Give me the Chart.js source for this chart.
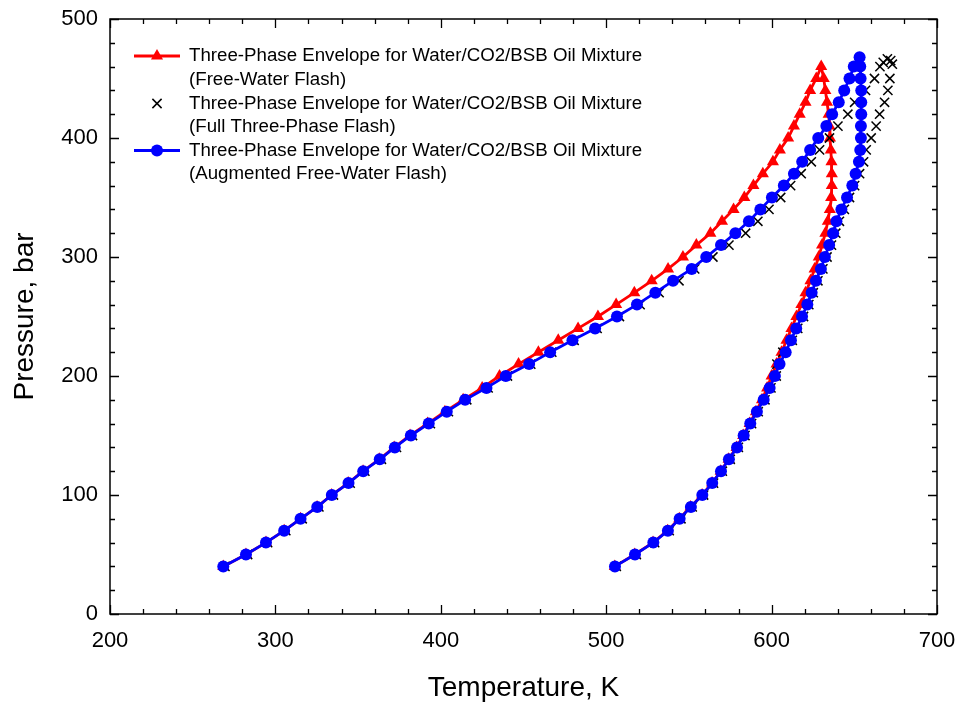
<!DOCTYPE html>
<html>
<head>
<meta charset="utf-8">
<script src="https://cdn.jsdelivr.net/npm/chart.js@4/dist/chart.umd.min.js"></script>
<style>
  html, body { margin: 0; padding: 0; background: #fff; }
  #wrap { width: 960px; height: 706px; }
</style>
</head>
<body>
<div id="wrap"><canvas id="chart" width="960" height="706"></canvas></div>
<script>
// Three-phase envelopes, Water/CO2/BSB oil — temperature (K) vs pressure (bar)

const X_TICKS = [200, 300, 400, 500, 600, 700];
const Y_TICKS = [0, 100, 200, 300, 400, 500];

const LEGEND_LINES = [
  ["Three-Phase Envelope for Water/CO2/BSB Oil Mixture", "(Free-Water Flash)"],
  ["Three-Phase Envelope for Water/CO2/BSB Oil Mixture", "(Full Three-Phase Flash)"],
  ["Three-Phase Envelope for Water/CO2/BSB Oil Mixture", "(Augmented Free-Water Flash)"],
];

// Free-Water Flash (red, triangles)
const fwTemp = [
  268.5, 282.2, 294.3, 305.3, 315.2, 325.2, 334.0, 344.0, 353.0, 362.8, 371.8, 381.4, 392.0, 402.5,
  413.5, 425.0, 435.5, 447.0, 459.0, 471.0, 483.0, 495.0, 506.0, 517.0, 527.5, 537.4, 546.4, 554.5,
  563.0, 570.0, 577.0, 583.5, 589.0, 594.7, 600.8, 605.0, 610.0, 613.5, 617.0, 620.5, 623.3, 627.0, 630.0,
  631.5, 632.5, 633.5, 634.5, 635.0, 635.3, 635.8, 636.2, 636.4, 636.4, 636.0, 635.2, 634.0, 632.5,
  630.5, 628.5, 626.0, 623.5, 620.5, 618.0, 615.0, 612.0, 609.0, 606.0, 603.0, 600.0, 597.3, 594.2,
  590.5, 586.7, 582.8, 578.8, 574.0, 569.2, 564.0, 558.0, 551.0, 544.2, 537.1, 528.3, 517.2, 505.2
];
const fwPres = [
  40, 50, 60, 70, 80, 90, 100, 110, 120, 130, 140, 150, 160, 170,
  180, 190, 200, 210, 220, 230, 240, 250, 260, 270, 280, 290, 300, 310,
  320, 330, 340, 350, 360, 370, 380, 390, 400, 410, 420, 430, 440, 450, 460,
  450, 440, 430, 420, 410, 400, 390, 380, 370, 360, 350, 340, 330, 320,
  310, 300, 290, 280, 270, 260, 250, 240, 230, 220, 210, 200, 190, 180,
  170, 160, 150, 140, 130, 120, 110, 100, 90, 80, 70, 60, 50, 40
];

// Full Three-Phase Flash (black crosses, no line)
const ftpTemp = [
  269.5, 283.2, 295.3, 306.3, 316.2, 326.3, 335.1, 345.2, 354.1, 364.1, 373.2, 382.9, 393.7, 404.6,
  415.7, 428.6, 440.3, 454.4, 467.1, 480.6, 494.5, 508.0, 520.5, 532.0, 544.0, 553.5, 564.5, 574.2,
  584.3, 591.7, 598.4, 605.5, 611.5, 617.9, 624.0, 629.0, 635.0, 640.1, 646.1, 650.2, 656.8, 662.2, 665.5,
  667.5, 670.0, 672.0, 673.0,
  671.5, 670.3, 668.3, 665.3, 663.2, 660.2, 657.2, 655.6, 653.2, 650.2, 647.1, 644.0, 641.0, 638.8,
  636.2, 633.5, 631.0, 628.0, 625.2, 622.5, 619.3, 615.8, 612.5, 606.8, 603.2, 602.8, 599.6, 596.0,
  591.9, 587.9, 583.9, 579.9, 575.0, 570.2, 564.9, 558.9, 552.0, 545.2, 538.1, 529.3, 518.2, 506.1
];
const ftpPres = [
  40, 50, 60, 70, 80, 90, 100, 110, 120, 130, 140, 150, 160, 170,
  180, 190, 200, 210, 220, 230, 240, 250, 260, 270, 280, 290, 300, 310,
  320, 330, 340, 350, 360, 370, 380, 390, 400, 410, 420, 430, 440, 450, 460,
  463.5, 466.5, 465, 462,
  450, 440, 430, 420, 410, 400, 390, 380, 370, 360, 350, 340, 330, 320,
  310, 300, 290, 280, 270, 260, 250, 240, 230, 220, 210, 200, 190, 180,
  170, 160, 150, 140, 130, 120, 110, 100, 90, 80, 70, 60, 50, 40
];

// Augmented Free-Water Flash (blue, circles)
const afwTemp = [
  268.5, 282.2, 294.3, 305.3, 315.2, 325.3, 334.1, 344.2, 353.1, 363.1, 372.2, 381.9, 392.7, 403.6,
  414.7, 427.6, 439.3, 453.4, 466.1, 479.6, 493.3, 506.5, 518.6, 529.7, 540.4, 551.7, 560.5, 569.4,
  578.1, 586.3, 593.2, 600.2, 607.4, 613.5, 618.5, 623.3, 628.2, 633.1, 636.6, 640.6, 643.9, 647.1, 649.7,
  653.2,
  653.6, 653.8, 654.2, 654.2, 654.2, 654.0, 654.0, 653.6, 652.8, 650.8, 648.8, 645.6, 642.2, 639.2,
  637.2, 634.8, 632.2, 629.8, 626.8, 624.2, 621.6, 618.4, 614.9, 611.7, 608.5, 604.8, 602.0, 598.8,
  595.2, 591.1, 587.1, 583.1, 579.1, 574.2, 569.4, 564.1, 558.1, 551.2, 544.4, 537.3, 528.5, 517.4, 505.3
];
const afwPres = [
  40, 50, 60, 70, 80, 90, 100, 110, 120, 130, 140, 150, 160, 170,
  180, 190, 200, 210, 220, 230, 240, 250, 260, 270, 280, 290, 300, 310,
  320, 330, 340, 350, 360, 370, 380, 390, 400, 410, 420, 430, 440, 450, 460,
  467.8,
  460, 450, 440, 430, 420, 410, 400, 390, 380, 370, 360, 350, 340, 330,
  320, 310, 300, 290, 280, 270, 260, 250, 240, 230, 220, 210, 200, 190,
  180, 170, 160, 150, 140, 130, 120, 110, 100, 90, 80, 70, 60, 50, 40
];

const FONT = "'Liberation Sans', Arial, sans-serif";

function pts(xs, ys) {
  return xs.map((x, i) => ({ x: x, y: ys[i] }));
}

// ─── frame, inside ticks (major + minor) and the box-less legend ────────────
const framePlugin = {
  id: "frame",
  afterDatasetsDraw(chart) {
    const { ctx, chartArea: a, scales } = chart;
    ctx.save();
    ctx.strokeStyle = "#000";
    ctx.lineWidth = 1.5;
    ctx.strokeRect(a.left, a.top, a.right - a.left, a.bottom - a.top);
    ctx.lineWidth = 1.3;
    ctx.beginPath();
    for (let v = 200; v <= 700; v += 20) {
      const px = Math.round(scales.x.getPixelForValue(v)) + 0.5;
      const len = v % 100 === 0 ? 9 : 5;
      ctx.moveTo(px, a.bottom); ctx.lineTo(px, a.bottom - len);
      ctx.moveTo(px, a.top);    ctx.lineTo(px, a.top + len);
    }
    for (let v = 0; v <= 500; v += 20) {
      const py = Math.round(scales.y.getPixelForValue(v)) + 0.5;
      const len = v % 100 === 0 ? 9 : 5;
      ctx.moveTo(a.left, py);  ctx.lineTo(a.left + len, py);
      ctx.moveTo(a.right, py); ctx.lineTo(a.right - len, py);
    }
    ctx.stroke();
    ctx.restore();
  },
  afterDraw(chart) {
    const ctx = chart.ctx;
    const rows = [56, 103.5, 150.5];
    const sets = chart.data.datasets;
    ctx.save();
    ctx.font = "18.7px " + FONT;
    ctx.textBaseline = "middle";
    LEGEND_LINES.forEach((lines, i) => {
      const y = rows[i];
      const ds = sets[i];
      if (ds.showLine) {
        ctx.strokeStyle = ds.borderColor;
        ctx.lineWidth = ds.borderWidth;
        ctx.beginPath(); ctx.moveTo(134, y); ctx.lineTo(180, y); ctx.stroke();
      }
      ctx.fillStyle = ds.pointBackgroundColor;
      ctx.strokeStyle = ds.pointBorderColor;
      ctx.lineWidth = ds.pointBorderWidth || 1;
      drawMarker(ctx, ds.pointStyle, ds.pointRadius, 157, y);
      ctx.fillStyle = "#000";
      ctx.fillText(lines[0], 189, y);
      ctx.fillText(lines[1], 189, y + 23.5);
    });
    ctx.restore();
  }
};

function drawMarker(ctx, style, r, x, y) {
  if (style === "triangle") {
    ctx.beginPath();
    ctx.moveTo(x, y - r);
    ctx.lineTo(x + r * 0.866, y + r * 0.5);
    ctx.lineTo(x - r * 0.866, y + r * 0.5);
    ctx.closePath();
    ctx.fill();
  } else if (style === "circle") {
    ctx.beginPath();
    ctx.arc(x, y, r, 0, Math.PI * 2);
    ctx.fill();
  } else {
    const d = r * 0.7071;
    ctx.beginPath();
    ctx.moveTo(x - d, y - d); ctx.lineTo(x + d, y + d);
    ctx.moveTo(x + d, y - d); ctx.lineTo(x - d, y + d);
    ctx.stroke();
  }
}

// keep the plot box exactly where the layout padding puts it
function noEdgePad(s) {
  s.paddingLeft = 0; s.paddingRight = 0; s.paddingTop = 0; s.paddingBottom = 0;
}

new Chart(document.getElementById("chart"), {
  type: "scatter",
  data: {
    datasets: [
      {
        label: "Free-Water Flash",
        data: pts(fwTemp, fwPres),
        showLine: true,
        borderColor: "#ff0000",
        borderWidth: 2.8,
        pointStyle: "triangle",
        pointRadius: 7,
        pointBackgroundColor: "#ff0000",
        pointBorderColor: "#ff0000",
        pointBorderWidth: 0,
        order: 2
      },
      {
        label: "Full Three-Phase Flash",
        data: pts(ftpTemp, ftpPres),
        showLine: false,
        borderColor: "#000",
        pointStyle: "crossRot",
        pointRadius: 6.5,
        pointBackgroundColor: "#000",
        pointBorderColor: "#000",
        pointBorderWidth: 1.5,
        order: 1
      },
      {
        label: "Augmented Free-Water Flash",
        data: pts(afwTemp, afwPres),
        showLine: true,
        borderColor: "#0000ff",
        borderWidth: 2.8,
        pointStyle: "circle",
        pointRadius: 6,
        pointBackgroundColor: "#0000ff",
        pointBorderColor: "#0000ff",
        pointBorderWidth: 0,
        order: 0
      }
    ]
  },
  options: {
    responsive: false,
    animation: false,
    layout: { padding: { top: 19, right: 23, bottom: 0, left: 0 } },
    plugins: { legend: { display: false }, tooltip: { enabled: false } },
    elements: { line: { tension: 0 } },
    scales: {
      x: {
        type: "linear", min: 200, max: 700,
        afterBuildTicks: s => { s.ticks = X_TICKS.map(v => ({ value: v })); },
        afterFit: s => { s.height = 92; noEdgePad(s); },
        grid: { display: false, drawTicks: false },
        border: { display: false },
        ticks: { color: "#000", padding: 14, font: { family: FONT, size: 22 } },
        title: { display: true, text: "Temperature, K", color: "#000",
                 font: { family: FONT, size: 28 }, padding: { top: 0, bottom: 1 } }
      },
      y: {
        type: "linear", min: 0, max: 500,
        afterBuildTicks: s => { s.ticks = Y_TICKS.map(v => ({ value: v })); },
        afterFit: s => { s.width = 110; noEdgePad(s); },
        grid: { display: false, drawTicks: false },
        border: { display: false },
        ticks: { color: "#000", padding: 12, font: { family: FONT, size: 22 } },
        title: { display: true, text: "Pressure, bar", color: "#000",
                 font: { family: FONT, size: 28 }, padding: { top: 8, bottom: 0 } }
      }
    }
  },
  plugins: [framePlugin]
});
</script>
</body>
</html>
